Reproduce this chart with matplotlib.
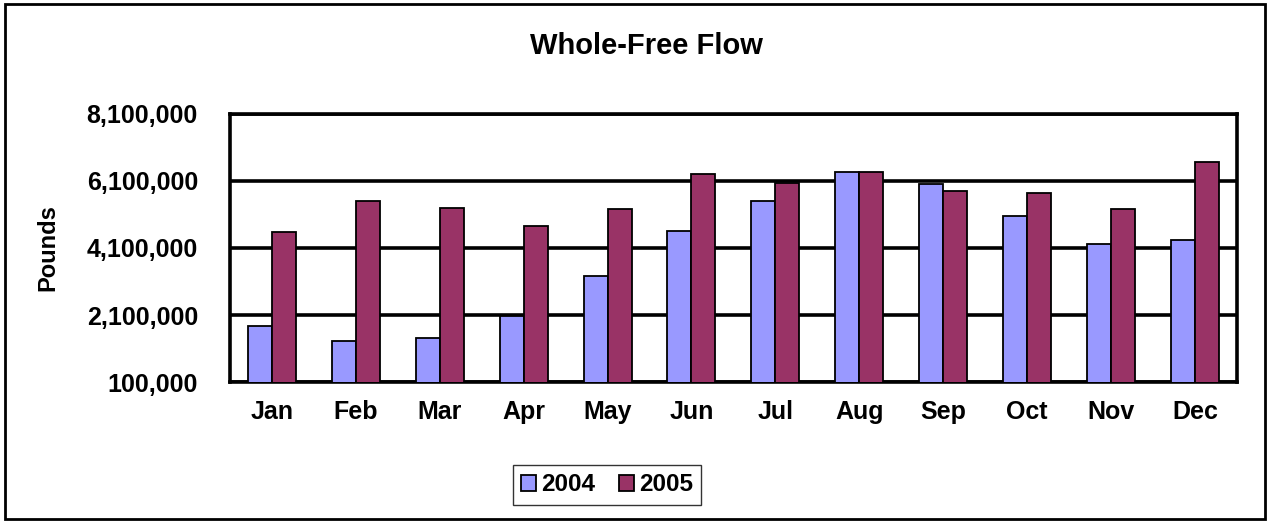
import matplotlib.pyplot as plt
import numpy as np
from matplotlib.patches import Rectangle
from matplotlib.ticker import FuncFormatter

plt.rcParams['font.family'] = ['Liberation Sans', 'DejaVu Sans']
plt.rcParams['font.weight'] = 'bold'

# data
months = ['Jan', 'Feb', 'Mar', 'Apr', 'May', 'Jun', 'Jul', 'Aug', 'Sep', 'Oct', 'Nov', 'Dec']
pounds_2004 = [1760000, 1330000, 1420000, 2060000, 3260000, 4600000,
               5510000, 6350000, 6000000, 5050000, 4230000, 4330000]
pounds_2005 = [4580000, 5500000, 5280000, 4760000, 5250000, 6300000,
               6030000, 6360000, 5810000, 5750000, 5260000, 6670000]
y_ticks = [100000, 2100000, 4100000, 6100000, 8100000]

fig = plt.figure(figsize=(12.7, 5.22), dpi=100)
ax = fig.add_axes([0.181, 0.268, 0.793, 0.514])

x = np.arange(len(months))
w = 0.286
ax.bar(x - w / 2, pounds_2004, w, color='#9999FF', edgecolor='black',
       linewidth=1.3, label='2004', zorder=3)
ax.bar(x + w / 2, pounds_2005, w, color='#993366', edgecolor='black',
       linewidth=1.3, label='2005', zorder=3)

ax.set_xlim(-0.5, len(months) - 0.5)
ax.set_ylim(100000, 8100000)
ax.set_yticks(y_ticks)
ax.yaxis.set_major_formatter(FuncFormatter(lambda v, p: f'{int(v):,}'))
ax.set_xticks(x)
ax.set_xticklabels(months)
ax.tick_params(axis='both', length=0, labelsize=18)
ax.tick_params(axis='y', pad=23)
ax.tick_params(axis='x', pad=13)
ax.grid(axis='y', color='black', linewidth=2.6, zorder=1)
for s in ax.spines.values():
    s.set_linewidth(2.6)

ax.set_ylabel('Pounds', fontsize=17, fontweight='bold', labelpad=20)
fig.text(0.509, 0.912, 'Whole-Free Flow', ha='center', va='center',
         fontsize=21, fontweight='bold')

leg = fig.legend(loc='center', bbox_to_anchor=(0.478, 0.071), ncol=2,
                 fontsize=17.5, frameon=True, fancybox=False, edgecolor='black',
                 handlelength=0.6, handleheight=0.6, handletextpad=0.2,
                 columnspacing=1.0, borderpad=0.35)
leg.get_frame().set_linewidth(1.0)

# outer chart border
fig.patches.append(Rectangle((0.004, 0.006), 0.992, 0.986, transform=fig.transFigure,
                             fill=False, edgecolor='black', linewidth=2))

plt.savefig('out.png', dpi=100)
